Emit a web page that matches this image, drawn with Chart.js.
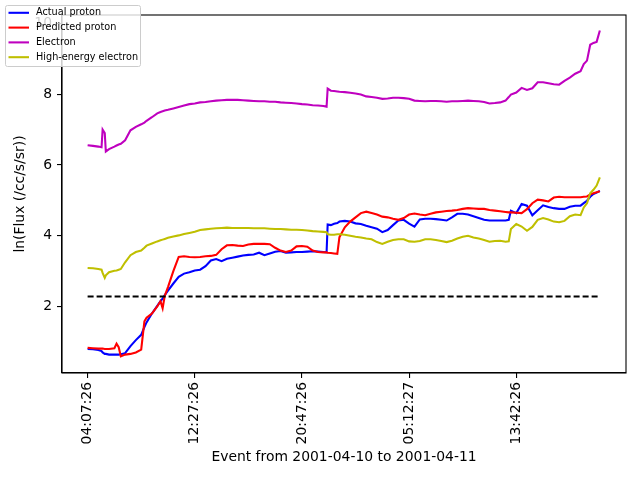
<!DOCTYPE html>
<html><head><meta charset="utf-8">
<script src="https://cdn.jsdelivr.net/npm/chart.js@4.4.1/dist/chart.umd.min.js"></script>
<style>html,body{margin:0;padding:0;background:#fff}canvas{display:block}</style>
</head><body>
<canvas id="c" width="640" height="480"></canvas>
<script>
const sampleIdx = [0,5,10,13,14,16,17,20,25,27,29,31,35,40,45,50,53,55,60,65,68,70,72,75,80,85,90,95,100,105,110,115,120,125,130,135,140,145,150,155,160,165,170,175,180,185,190,195,200,205,210,215,220,223,224,227,230,233,235,240,245,250,255,260,265,270,275,280,285,290,295,300,305,310,315,320,325,330,335,340,345,350,355,360,365,370,375,380,385,390,393,395,400,405,410,415,420,425,430,435,440,445,450,455,460,463,466,469,472,475,478];
const actualProton = [0.80,0.79,0.77,0.74,0.70,0.66,0.66,0.64,0.64,0.64,0.64,0.65,0.68,0.88,1.05,1.20,1.42,1.55,1.80,2.02,2.15,2.22,2.32,2.45,2.65,2.84,2.93,2.97,3.02,3.04,3.14,3.30,3.34,3.28,3.35,3.38,3.41,3.44,3.46,3.47,3.52,3.45,3.50,3.55,3.57,3.52,3.53,3.54,3.54,3.55,3.56,3.55,3.54,3.53,4.32,4.30,4.34,4.36,4.40,4.42,4.40,4.35,4.33,4.28,4.24,4.20,4.10,4.16,4.30,4.43,4.45,4.34,4.26,4.46,4.48,4.48,4.47,4.45,4.43,4.52,4.62,4.62,4.60,4.55,4.50,4.45,4.43,4.43,4.43,4.43,4.45,4.71,4.64,4.90,4.85,4.58,4.72,4.86,4.81,4.78,4.76,4.76,4.82,4.85,4.85,4.92,4.99,5.10,5.18,5.22,5.27];
const predictedProton = [0.83,0.82,0.81,0.81,0.81,0.80,0.80,0.80,0.82,0.95,0.85,0.59,0.64,0.66,0.70,0.78,1.58,1.68,1.80,2.00,2.15,1.95,2.30,2.55,3.00,3.40,3.42,3.40,3.39,3.40,3.42,3.43,3.46,3.62,3.73,3.74,3.72,3.71,3.75,3.77,3.77,3.77,3.76,3.66,3.58,3.54,3.58,3.70,3.71,3.69,3.58,3.54,3.53,3.53,3.52,3.51,3.50,3.49,3.96,4.24,4.40,4.52,4.64,4.68,4.64,4.60,4.54,4.52,4.48,4.45,4.50,4.60,4.63,4.60,4.58,4.62,4.66,4.68,4.70,4.71,4.73,4.76,4.78,4.77,4.76,4.76,4.73,4.71,4.69,4.67,4.66,4.66,4.65,4.64,4.75,4.92,5.02,5.00,4.97,5.08,5.10,5.09,5.09,5.09,5.09,5.10,5.11,5.17,5.20,5.23,5.26];
const electron = [6.56,6.54,6.52,6.50,7.00,6.90,6.38,6.45,6.52,6.55,6.58,6.60,6.70,6.98,7.08,7.15,7.20,7.25,7.35,7.46,7.50,7.52,7.54,7.56,7.60,7.64,7.68,7.72,7.74,7.77,7.78,7.80,7.82,7.83,7.84,7.84,7.84,7.83,7.82,7.81,7.80,7.80,7.79,7.79,7.77,7.76,7.75,7.74,7.72,7.71,7.69,7.68,7.67,7.65,8.16,8.10,8.09,8.08,8.07,8.06,8.04,8.02,7.99,7.94,7.92,7.90,7.87,7.88,7.90,7.90,7.89,7.87,7.82,7.81,7.80,7.81,7.81,7.80,7.79,7.80,7.80,7.81,7.82,7.81,7.80,7.78,7.74,7.75,7.77,7.82,7.92,7.99,8.05,8.18,8.12,8.17,8.34,8.34,8.31,8.28,8.27,8.38,8.47,8.58,8.65,8.85,8.95,9.40,9.45,9.48,9.80];
const highEnergyElectron = [3.09,3.08,3.06,3.04,2.95,2.81,2.88,2.97,3.01,3.02,3.04,3.06,3.25,3.45,3.54,3.58,3.66,3.72,3.78,3.84,3.87,3.89,3.91,3.94,3.98,4.01,4.05,4.08,4.11,4.16,4.18,4.20,4.21,4.22,4.23,4.22,4.22,4.22,4.22,4.21,4.21,4.21,4.20,4.19,4.19,4.18,4.17,4.17,4.16,4.15,4.13,4.12,4.11,4.10,4.04,4.03,4.03,4.04,4.04,4.03,4.00,3.97,3.95,3.92,3.90,3.82,3.77,3.83,3.88,3.90,3.90,3.84,3.83,3.85,3.90,3.90,3.88,3.85,3.82,3.86,3.92,3.97,4.00,3.95,3.92,3.88,3.83,3.85,3.86,3.83,3.84,4.19,4.33,4.26,4.14,4.25,4.45,4.50,4.46,4.40,4.38,4.42,4.55,4.60,4.58,4.80,4.92,5.20,5.30,5.42,5.65];
const thresholdX = [0, 478];
const thresholdY = [2.28, 2.28];
const tickPositions = [0, 100, 200, 300, 400];
const tickLabels = ['04:07:26', '12:27:26', '20:47:26', '05:12:27', '13:42:26'];
const yTickValues = [2, 4, 6, 8, 10];
const seriesNames = ['Actual proton', 'Predicted proton', 'Electron', 'High-energy electron'];
const seriesColors = ['#0000ff', '#ff0000', '#bf00bf', '#bfbf00'];
const seriesValues = [actualProton, predictedProton, electron, highEnergyElectron];

const FONT = "'DejaVu Sans', sans-serif";
Chart.defaults.color = '#000';
Chart.defaults.font.family = FONT;

const datasets = seriesValues.map((vals, i) => ({
  label: seriesNames[i],
  data: vals.map((v, j) => ({x: sampleIdx[j], y: v})),
  borderColor: seriesColors[i],
  borderWidth: 2.08,
  pointRadius: 0,
  fill: false,
  tension: 0,
  order: 10 - i
}));
datasets.push({
  label: '_threshold',
  data: thresholdX.map((x, j) => ({x: x, y: thresholdY[j]})),
  borderColor: '#000',
  borderWidth: 2,
  borderDash: [6, 3],
  pointRadius: 0,
  fill: false,
  order: 1
});

const framePlugin = {
  id: 'frame',
  afterDraw(chart) {
    const {ctx, chartArea: a} = chart;
    ctx.save();
    ctx.strokeStyle = '#000';
    ctx.lineWidth = 1.1;
    ctx.strokeRect(a.left, a.top, a.right - a.left, a.bottom - a.top);
    // legend
    const x0 = 5.5, y0 = 5.5, w = 135, h = 61;
    ctx.fillStyle = 'rgba(255,255,255,0.8)';
    ctx.strokeStyle = '#cccccc';
    ctx.lineWidth = 1;
    ctx.beginPath();
    ctx.roundRect(x0, y0, w, h, 2);
    ctx.fill();
    ctx.stroke();
    ctx.font = '9.7px ' + FONT;
    ctx.textBaseline = 'middle';
    ctx.textAlign = 'left';
    chart.data.datasets.forEach((ds, i) => {
      if (ds.label.startsWith('_')) return;
      const yy = 12.8 + i * 14.8;
      ctx.strokeStyle = ds.borderColor;
      ctx.lineWidth = 2.08;
      ctx.beginPath();
      ctx.moveTo(8.5, yy);
      ctx.lineTo(29, yy);
      ctx.stroke();
      ctx.fillStyle = '#000';
      ctx.fillText(ds.label, 36, yy);
    });
    ctx.restore();
  }
};

new Chart(document.getElementById('c'), {
  type: 'line',
  data: {datasets},
  options: {
    responsive: false,
    animation: false,
    devicePixelRatio: 1,
    layout: {padding: {top: 15, right: 14, left: 0, bottom: 0}},
    plugins: {legend: {display: false}, tooltip: {enabled: false}},
    scales: {
      x: {
        type: 'linear',
        min: -23.9,
        max: 502.4,
        afterBuildTicks(scale) { scale.ticks = tickPositions.map(v => ({value: v})); },
        afterFit(scale) { scale.height = 107; },
        ticks: {
          callback: (v) => { const k = tickPositions.indexOf(v); return k >= 0 ? tickLabels[k] : ''; },
          minRotation: 90, maxRotation: 90, autoSkip: false,
          font: {size: 13.9, family: FONT}, padding: 4, color: '#000'
        },
        grid: {display: true, drawOnChartArea: false, drawTicks: true, tickLength: 5, lineWidth: 1.1, color: '#000', tickColor: '#000'},
        border: {display: true, color: '#000', width: 1.1},
        title: {display: true, text: 'Event from 2001-04-10 to 2001-04-11', font: {size: 13.9, family: FONT}, color: '#000', padding: {top: 0, bottom: 14.5}}
      },
      y: {
        type: 'linear',
        min: 0.12,
        max: 10.24,
        afterBuildTicks(scale) { scale.ticks = yTickValues.map(v => ({value: v})); },
        afterFit(scale) { scale.width = 62; },
        ticks: {font: {size: 13.9, family: FONT}, padding: 5, color: '#000', callback: v => String(v)},
        grid: {display: true, drawOnChartArea: false, drawTicks: true, tickLength: 5, lineWidth: 1.1, color: '#000', tickColor: '#000'},
        border: {display: true, color: '#000', width: 1.1},
        title: {display: true, text: 'ln(Flux (/cc/s/sr))', font: {size: 13.9, family: FONT}, color: '#000', padding: {top: 12.5, bottom: 0}}
      }
    }
  },
  plugins: [framePlugin]
});
</script>
</body></html>
